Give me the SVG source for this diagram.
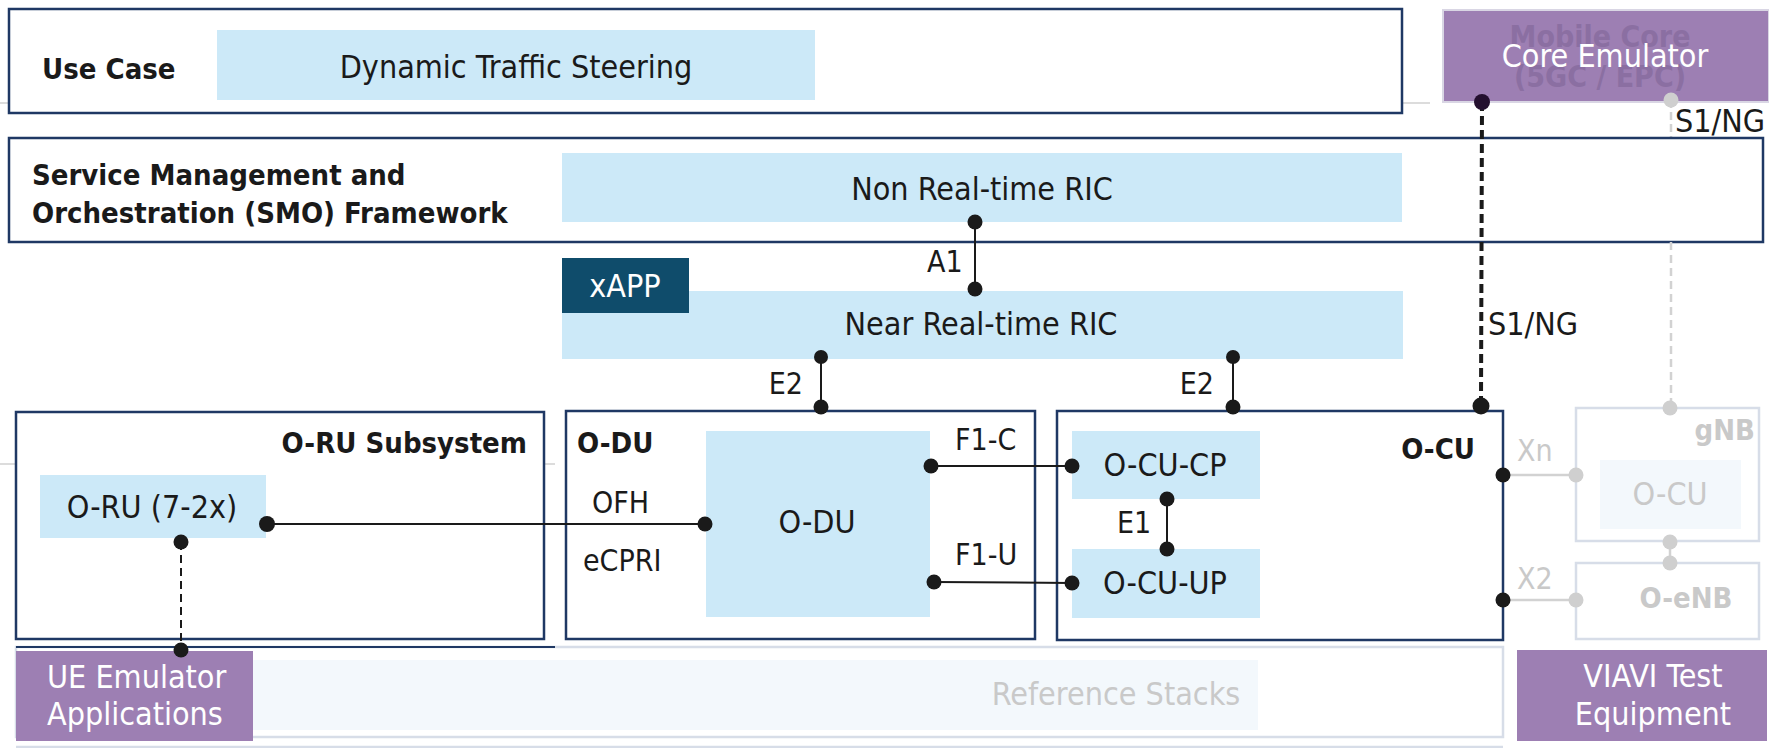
<svg xmlns="http://www.w3.org/2000/svg" width="1769" height="748" viewBox="0 0 1769 748">
<style>
text { font-family: "DejaVu Sans Condensed", "DejaVu Sans", sans-serif; font-stretch: condensed; fill: #1a1a1a; }
.main { font-size: 32px; }
.lbl { font-size: 30px; }
.bold { font-size: 29px; font-weight: bold; }
.mid { text-anchor: middle; }
.end { text-anchor: end; }
.white { fill: #ffffff; }
.grey { fill: #c9c9c9; }
.frame { fill: #ffffff; stroke: #1f3864; stroke-width: 2.5; }
.lb { fill: #cce9f8; }
.purple { fill: #9d7fb3; }
.faint { fill: #ffffff; stroke: #d7dde8; stroke-width: 2.5; }
.line { stroke: #1a1a1a; stroke-width: 2; fill: none; }
.gline { stroke: #d2d2d2; stroke-width: 2.5; fill: none; }
.dot { fill: #1a1a1a; }
.gdot { fill: #cfcfcf; }
.hair { stroke: #d0d0d0; stroke-width: 1.5; }
</style>

<g id="background-lines">
  <line class="hair" x1="0" y1="103" x2="1430" y2="103"/>
  <line class="hair" x1="0" y1="464" x2="555" y2="464"/>
</g>

<g id="use-case">
  <rect class="frame" x="9" y="9" width="1393" height="104"/>
  <text class="bold" x="42" y="79">Use Case</text>
  <rect class="lb" x="217" y="30" width="598" height="70"/>
  <text class="main mid" x="516" y="78">Dynamic Traffic Steering</text>
</g>

<g id="core-emulator">
  <rect class="purple" x="1443" y="10" width="326" height="92" stroke="#d9d6e4" stroke-width="2"/>
  <text class="bold mid" x="1600" y="47" style="fill:#8b6fa2;font-size:30px">Mobile Core</text>
  <text class="bold mid" x="1600" y="87" style="fill:#8b6fa2;font-size:30px">(5GC / EPC)</text>
  <text class="main mid white" x="1605" y="67">Core Emulator</text>
</g>

<g id="connectors-under">
  <line class="gline" x1="1671" y1="100" x2="1671" y2="138" stroke-dasharray="8 4"/>
</g>

<g id="smo">
  <rect class="frame" x="9" y="138" width="1754" height="104"/>
  <text class="bold" x="32" y="185">Service Management and</text>
  <text class="bold" x="32" y="223">Orchestration (SMO) Framework</text>
</g>

<g id="non-rt-ric">
  <rect class="lb" x="562" y="153" width="840" height="69"/>
  <text class="main mid" x="982" y="200">Non Real-time RIC</text>
</g>

<g id="near-rt-ric">
  <rect class="lb" x="562" y="291" width="841" height="68"/>
  <text class="main mid" x="981" y="335">Near Real-time RIC</text>
</g>

<g id="xapp">
  <rect x="562" y="258" width="127" height="55" fill="#0f4c6b"/>
  <text class="main mid white" x="625" y="297">xAPP</text>
</g>

<g id="oru-subsystem">
  <rect class="frame" x="16" y="412" width="528" height="227"/>
  <text class="bold end" x="527" y="453">O-RU Subsystem</text>
</g>

<g id="oru">
  <rect class="lb" x="40" y="475" width="226" height="63"/>
  <text class="main mid" x="152" y="518">O-RU (7-2x)</text>
</g>

<g id="reference-stacks">
  <rect x="16" y="647" width="1487" height="90" fill="#ffffff" stroke="#d7dde8" stroke-width="2.5"/>
  <line x1="16" y1="747" x2="1503" y2="747" stroke="#d7dde8" stroke-width="2.5"/>
  <line x1="16" y1="647" x2="555" y2="647" stroke="#1f3864" stroke-width="2"/>
  <rect x="16" y="660" width="1242" height="70" fill="#f3f8fc"/>
  <text class="main mid grey" x="1116" y="705">Reference Stacks</text>
</g>

<g id="ue-emulator">
  <rect class="purple" x="16" y="651" width="237" height="90"/>
  <text class="main white" x="47" y="688">UE Emulator</text>
  <text class="main white" x="47" y="725">Applications</text>
</g>

<g id="odu-block">
  <rect class="frame" x="566" y="411" width="469" height="228"/>
  <text class="bold" x="577" y="453">O-DU</text>
  <text class="lbl" x="592" y="513">OFH</text>
  <text class="lbl" x="583" y="571">eCPRI</text>
</g>

<g id="odu">
  <rect class="lb" x="706" y="431" width="224" height="186"/>
  <text class="main mid" x="817" y="533">O-DU</text>
</g>

<g id="ocu-block">
  <rect class="frame" x="1057" y="411" width="446" height="229"/>
  <text class="bold end" x="1475" y="459">O-CU</text>
</g>

<g id="ocu-cp">
  <rect class="lb" x="1072" y="431" width="188" height="68"/>
  <text class="main mid" x="1165" y="476">O-CU-CP</text>
</g>

<g id="ocu-up">
  <rect class="lb" x="1072" y="549" width="188" height="69"/>
  <text class="main mid" x="1165" y="594">O-CU-UP</text>
</g>

<g id="gnb">
  <rect class="faint" x="1576" y="408" width="183" height="133"/>
  <text class="bold end grey" x="1755" y="440">gNB</text>
  <rect x="1600" y="460" width="141" height="69" fill="#f3f8fc"/>
  <text class="main mid grey" x="1670" y="505">O-CU</text>
</g>

<g id="o-enb">
  <rect class="faint" x="1576" y="563" width="183" height="76"/>
  <text class="bold mid grey" x="1686" y="608">O-eNB</text>
</g>

<g id="viavi">
  <rect class="purple" x="1517" y="650" width="250" height="91"/>
  <text class="main mid white" x="1653" y="687">VIAVI Test</text>
  <text class="main mid white" x="1653" y="725">Equipment</text>
</g>

<g id="connectors">
  <!-- A1 -->
  <line class="line" x1="975" y1="222" x2="975" y2="289"/>
  <circle class="dot" cx="975" cy="222" r="7.5"/>
  <circle class="dot" cx="975" cy="289" r="7.5"/>
  <text class="lbl" x="927" y="272">A1</text>
  <!-- E2 left -->
  <line class="line" x1="821" y1="357" x2="821" y2="407"/>
  <circle class="dot" cx="821" cy="357" r="7"/>
  <circle class="dot" cx="821" cy="407" r="7.5"/>
  <text class="lbl end" x="803" y="394">E2</text>
  <!-- E2 right -->
  <line class="line" x1="1233" y1="357" x2="1233" y2="407"/>
  <circle class="dot" cx="1233" cy="357" r="7"/>
  <circle class="dot" cx="1233" cy="407" r="7.5"/>
  <text class="lbl end" x="1214" y="394">E2</text>
  <!-- OFH -->
  <line class="line" x1="267" y1="524" x2="705" y2="524"/>
  <circle class="dot" cx="267" cy="524" r="8"/>
  <circle class="dot" cx="705" cy="524" r="7.5"/>
  <!-- O-RU to UE -->
  <line class="line" x1="181" y1="542" x2="181" y2="650" stroke-width="2.5" stroke-dasharray="8 5"/>
  <circle class="dot" cx="181" cy="542" r="7.5"/>
  <circle class="dot" cx="181" cy="650" r="7.5"/>
  <!-- F1-C -->
  <line class="line" x1="931" y1="466" x2="1072" y2="466"/>
  <circle class="dot" cx="931" cy="466" r="7.5"/>
  <circle class="dot" cx="1072" cy="466" r="7.5"/>
  <text class="lbl" x="955" y="450">F1-C</text>
  <!-- F1-U -->
  <line class="line" x1="934" y1="582" x2="1072" y2="583"/>
  <circle class="dot" cx="934" cy="582" r="7.5"/>
  <circle class="dot" cx="1072" cy="583" r="7.5"/>
  <text class="lbl" x="955" y="565">F1-U</text>
  <!-- E1 -->
  <line class="line" x1="1167" y1="499" x2="1167" y2="549"/>
  <circle class="dot" cx="1167" cy="499" r="7.5"/>
  <circle class="dot" cx="1167" cy="549" r="7.5"/>
  <text class="lbl" x="1117" y="533">E1</text>
  <!-- S1/NG core emulator to O-CU -->
  <line x1="1482" y1="102" x2="1481" y2="405" stroke="#1a1a1a" stroke-width="4" stroke-dasharray="9 5"/>
  <circle cx="1482" cy="102" r="8" fill="#24102f"/>
  <circle class="dot" cx="1481" cy="406" r="8.5"/>
  <text class="main" x="1488" y="335">S1/NG</text>
  <!-- S1/NG core to gNB (faded) -->
  <line class="gline" x1="1671" y1="242" x2="1671" y2="408" stroke-dasharray="8 5"/>
  <circle class="gdot" cx="1671" cy="100" r="7.5"/>
  <circle class="gdot" cx="1670" cy="408" r="7.5"/>
  <text class="main" x="1675" y="132">S1/NG</text>
  <!-- Xn -->
  <line class="gline" x1="1503" y1="475" x2="1576" y2="475"/>
  <circle class="dot" cx="1503" cy="475" r="7.5"/>
  <circle class="gdot" cx="1576" cy="475" r="7.5"/>
  <text class="lbl grey" x="1517" y="461">Xn</text>
  <!-- X2 -->
  <line class="gline" x1="1503" y1="600" x2="1576" y2="600"/>
  <circle class="dot" cx="1503" cy="600" r="7.5"/>
  <circle class="gdot" cx="1576" cy="600" r="7.5"/>
  <text class="lbl grey" x="1517" y="589">X2</text>
  <!-- gNB to O-eNB -->
  <line class="gline" x1="1670" y1="542" x2="1670" y2="563"/>
  <circle class="gdot" cx="1670" cy="542" r="7.5"/>
  <circle class="gdot" cx="1670" cy="563" r="7.5"/>
</g>
</svg>
